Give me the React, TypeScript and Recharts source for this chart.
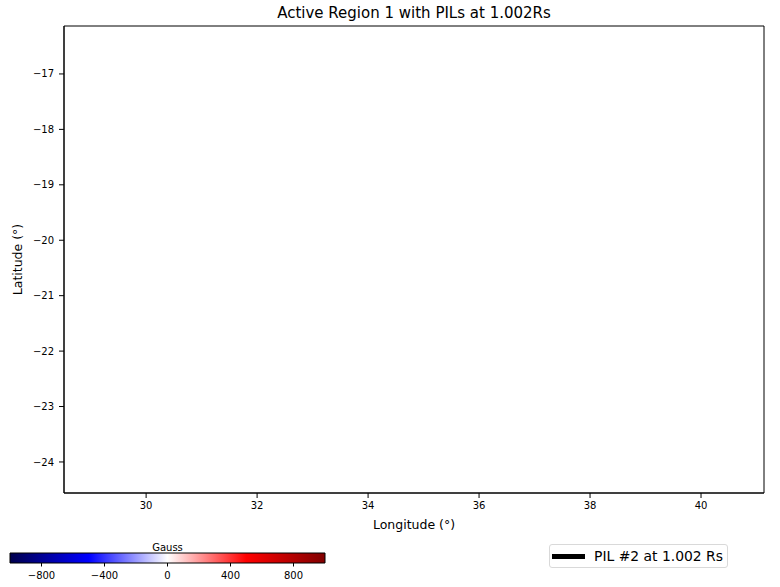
import React from 'react';
import { ComposedChart, LineChart, Line, XAxis, YAxis, ReferenceArea, Legend, Label } from 'recharts';

// ---- data ----
const lonDomain: [number, number] = [28.52, 41.135];
const latDomain: [number, number] = [-24.56, -16.135];
const lonTicks = [30, 32, 34, 36, 38, 40];
const latTicks = [-24, -23, -22, -21, -20, -19, -18, -17];
// PIL #2 has no points inside the displayed window
const pilLon: number[] = [];
const pilLat: number[] = [];
const pilData = pilLon.map((lon, i) => ({ lon, lat: pilLat[i] }));

const gaussDomain: [number, number] = [-1000, 1000];
const gaussTicks = [-800, -400, 0, 400, 800];
const gaussData = gaussTicks.map((g) => ({ g, y: 0.5 }));
// matplotlib "seismic" colormap stops
const seismicStops = [
  { offset: 0, color: 'rgb(0,0,77)' },
  { offset: 0.25, color: 'rgb(0,0,255)' },
  { offset: 0.5, color: 'rgb(255,255,255)' },
  { offset: 0.75, color: 'rgb(255,0,0)' },
  { offset: 1, color: 'rgb(128,0,0)' },
];

const FONT = '"DejaVu Sans", sans-serif';

const fmt = (v: number) => (v < 0 ? '\u2212' + Math.abs(v) : String(v));

const YLabel = (props: any) => {
  const vb = props.viewBox || {};
  const cy = (vb.y || 0) + (vb.height || 0) / 2;
  const cx = 17;
  return (
    <text
      x={cx}
      y={cy}
      transform={`rotate(-90, ${cx}, ${cy})`}
      textAnchor="middle"
      dominantBaseline="central"
      fontSize={12.5}
      fontFamily={FONT}
      fill="#000"
    >
      Latitude (°)
    </text>
  );
};

const XLabel = (props: any) => {
  const vb = props.viewBox || {};
  const cx = (vb.x || 0) + (vb.width || 0) / 2;
  return (
    <text x={cx} y={529} textAnchor="middle" fontSize={12.5} fontFamily={FONT} fill="#000">
      Longitude (°)
    </text>
  );
};

const LegendBox = (props: any) => {
  const items = props.payload || [];
  return (
    <div
      style={{
        border: '1px solid #d9d9d9',
        borderRadius: 3,
        background: '#fff',
        width: 179,
        height: 24,
        boxSizing: 'border-box',
        display: 'flex',
        alignItems: 'center',
        fontFamily: FONT,
        fontSize: 13.9,
        color: '#000',
      }}
    >
      {items.map((it: any, i: number) => (
        <div key={i} style={{ display: 'flex', alignItems: 'center' }}>
          <div style={{ width: 33, height: 5, background: '#000', marginLeft: 2, marginRight: 9 }} />
          <span>{it.value}</span>
        </div>
      ))}
    </div>
  );
};

export default function App() {
  return (
    <div style={{ position: 'absolute', left: 0, top: 0, width: 780, height: 587, background: '#fff', fontFamily: FONT }}>
      <div
        style={{
          position: 'absolute',
          left: 64,
          width: 700,
          top: 3,
          textAlign: 'center',
          fontSize: 15,
          lineHeight: '20px',
          color: '#000',
        }}
      >
        Active Region 1 with PILs at 1.002Rs
      </div>

      <div style={{ position: 'absolute', left: 0, top: 0 }}>
        <LineChart width={780} height={587} data={pilData} margin={{ top: 26, right: 16, bottom: 0, left: 0 }}>
          <XAxis
            dataKey="lon"
            type="number"
            domain={lonDomain}
            ticks={lonTicks}
            allowDataOverflow
            height={94}
            tickSize={5}
            tickMargin={4}
            tick={{ fontSize: 10, fill: '#000', fontFamily: FONT }}
            axisLine={{ stroke: '#000', strokeWidth: 1 }}
            tickLine={{ stroke: '#000', strokeWidth: 1 }}
          >
            <Label content={XLabel} />
          </XAxis>
          <YAxis
            dataKey="lat"
            type="number"
            domain={latDomain}
            ticks={latTicks}
            allowDataOverflow
            width={64}
            tickSize={5}
            tickMargin={5}
            tickFormatter={fmt}
            tick={{ fontSize: 10, fill: '#000', fontFamily: FONT }}
            axisLine={{ stroke: '#000', strokeWidth: 1 }}
            tickLine={{ stroke: '#000', strokeWidth: 1 }}
          >
            <Label content={YLabel} />
          </YAxis>
          <ReferenceArea
            x1={lonDomain[0]}
            x2={lonDomain[1]}
            y1={latDomain[0]}
            y2={latDomain[1]}
            fill="none"
            stroke="#000"
            strokeWidth={1}
            ifOverflow="visible"
          />
          <Line
            dataKey="lat"
            name="PIL #2 at 1.002 Rs"
            stroke="#000"
            strokeWidth={5}
            dot={false}
            isAnimationActive={false}
          />
          <Legend
            layout="horizontal"
            verticalAlign="middle"
            align="center"
            content={LegendBox}
            wrapperStyle={{ left: 549, top: 544, width: 179, height: 24 }}
          />
        </LineChart>
      </div>

      <div style={{ position: 'absolute', left: 0, top: 530 }}>
        <ComposedChart width={340} height={57} data={gaussData} margin={{ top: 23, right: 15, bottom: 0, left: 10 }}>
          <defs>
            <linearGradient id="seismic" x1="0" y1="0" x2="1" y2="0">
              {seismicStops.map((s) => (
                <stop key={s.offset} offset={s.offset} stopColor={s.color} />
              ))}
            </linearGradient>
          </defs>
          <XAxis
            dataKey="g"
            type="number"
            domain={gaussDomain}
            ticks={gaussTicks}
            allowDataOverflow
            height={24}
            tickSize={3.5}
            tickMargin={5}
            tickFormatter={fmt}
            tick={{ fontSize: 10, fill: '#000', fontFamily: FONT }}
            axisLine={false}
            tickLine={{ stroke: '#000', strokeWidth: 1 }}
          />
          <YAxis dataKey="y" type="number" domain={[0, 1]} allowDataOverflow hide />
          <ReferenceArea
            x1={gaussDomain[0]}
            x2={gaussDomain[1]}
            y1={0}
            y2={1}
            fill="url(#seismic)"
            fillOpacity={1}
            stroke="#000"
            strokeWidth={1}
            ifOverflow="visible"
          >
            <Label value="Gauss" position="top" offset={2} fontSize={10} fill="#000" fontFamily={FONT} />
          </ReferenceArea>
        </ComposedChart>
      </div>
    </div>
  );
}
